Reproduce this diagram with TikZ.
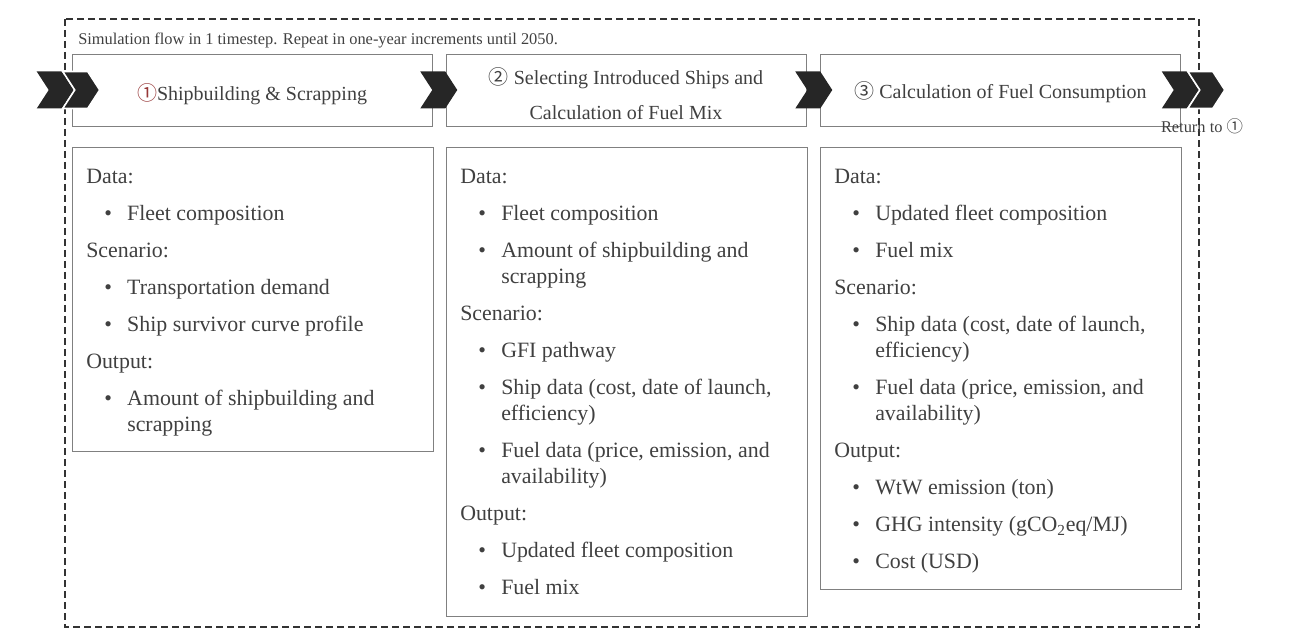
\documentclass[tikz,border=0pt]{standalone}
\usepackage{fontspec}
\setmainfont{Liberation Serif}
\newfontfamily\circfont{Noto Sans CJK JP}
\usepackage{tikz}

\definecolor{txtgray}{RGB}{64,64,64}
\definecolor{boxgray}{RGB}{128,128,128}
\definecolor{chevgray}{RGB}{38,38,38}
\definecolor{circred}{RGB}{150,55,55}

\newcommand{\cn}[1]{{\circfont #1}}
\newcommand{\itm}[1]{\makebox[30.75pt][l]{\hspace*{13.5pt}\textbullet}#1}
\newcommand{\cnt}[1]{\hspace*{30.75pt}#1}
\newcommand{\gap}{8.25pt}

\tikzset{
	header/.style={shape=rectangle, draw=boxgray, minimum width=270pt, minimum height=54pt, inner sep=0pt},
	headtext/.style={inner sep=0pt, text=txtgray, align=center, font=\fontsize{15}{26.25}\selectfont},
	content/.style={shape=rectangle, draw=boxgray, minimum width=270.75pt, anchor=north west, inner sep=0pt},
	listtext/.style={anchor=north west, inner sep=0pt, align=left, text=txtgray, font=\fontsize{16.4}{19.5}\selectfont},
	small/.style={text=txtgray, inner sep=0pt, font=\fontsize{12.3}{14}\selectfont},
	pics/chev/.style={code={\fill[chevgray, draw=#1, line width=1.2pt] (0,-18.5) -- (25,-18.5) -- (37,0) -- (25,18.5) -- (0,18.5) -- (12,0) -- cycle;}}
}

\begin{document}
\begin{tikzpicture}[x=0.75pt, y=-0.75pt]
	
	\useasboundingbox (0,0) rectangle (1297,638);
	\draw[dashed, dash pattern=on 5.25pt off 3pt, line width=1.1pt, black!80] (65,19) rectangle (1199,627);
	\node[small, anchor=base west] (title) at (78,45) {Simulation flow in 1 timestep. Repeat in one-year increments until 2050.};
	
	\node[header] (h1) at (252,90)    {};
	\node[header] (h2) at (626,90)    {};
	\node[header] (h3) at (1000.5,90) {};
	\node[headtext] (l1) at ([yshift=-3pt]h1.center) {\textcolor{circred}{\cn{①}}Shipbuilding \& Scrapping};
	\node[headtext] (l2) at ([yshift=-3pt]h2.center) {\cn{②} Selecting Introduced Ships and\\Calculation of Fuel Mix};
	\node[headtext] (l3) at ([yshift=-2pt]h3.center) {\cn{③} Calculation of Fuel Consumption};
	
	\pic at ([xshift=-26.25pt]h1.west) {chev=none};
	\pic at ([xshift=-6.75pt]h1.west)  {chev=white};
	\pic at ([xshift=-9pt]h1.east)     {chev=none};
	\pic at ([xshift=-8.25pt]h2.east)  {chev=none};
	\pic at ([xshift=-14.25pt]h3.east) {chev=none};
	\pic at ([xshift=5.25pt]h3.east)   {chev=white};
	\node[small] (ret) at (1202,126) {Return to \cn{①}};
	
	\node[content, minimum height=228pt]    (b1) at (72,147)  {};
	\node[content, minimum height=351.75pt] (b2) at (446,147) {};
	\node[content, minimum height=331.5pt]  (b3) at (820,147) {};
	
	\node[listtext] (t1) at ([xshift=10.5pt, yshift=-16.5pt]b1.north west) {
		Data:\\[\gap]
		\itm{Fleet composition}\\[\gap]
		Scenario:\\[\gap]
		\itm{Transportation demand}\\[\gap]
		\itm{Ship survivor curve profile}\\[\gap]
		Output:\\[\gap]
		\itm{Amount of shipbuilding and}\\
		\cnt{scrapping}};
	
	\node[listtext] (t2) at ([xshift=10.5pt, yshift=-16.5pt]b2.north west) {
		Data:\\[\gap]
		\itm{Fleet composition}\\[\gap]
		\itm{Amount of shipbuilding and}\\
		\cnt{scrapping}\\[\gap]
		Scenario:\\[\gap]
		\itm{GFI pathway}\\[\gap]
		\itm{Ship data (cost, date of launch,}\\
		\cnt{efficiency)}\\[\gap]
		\itm{Fuel data (price, emission, and}\\
		\cnt{availability)}\\[\gap]
		Output:\\[\gap]
		\itm{Updated fleet composition}\\[\gap]
		\itm{Fuel mix}};
	
	\node[listtext] (t3) at ([xshift=10.5pt, yshift=-16.5pt]b3.north west) {
		Data:\\[\gap]
		\itm{Updated fleet composition}\\[\gap]
		\itm{Fuel mix}\\[\gap]
		Scenario:\\[\gap]
		\itm{Ship data (cost, date of launch,}\\
		\cnt{efficiency)}\\[\gap]
		\itm{Fuel data (price, emission, and}\\
		\cnt{availability)}\\[\gap]
		Output:\\[\gap]
		\itm{WtW emission (ton)}\\[\gap]
		\itm{GHG intensity (gCO\textsubscript{2}eq/MJ)}\\[\gap]
		\itm{Cost (USD)}};
	
\end{tikzpicture}
\end{document}
